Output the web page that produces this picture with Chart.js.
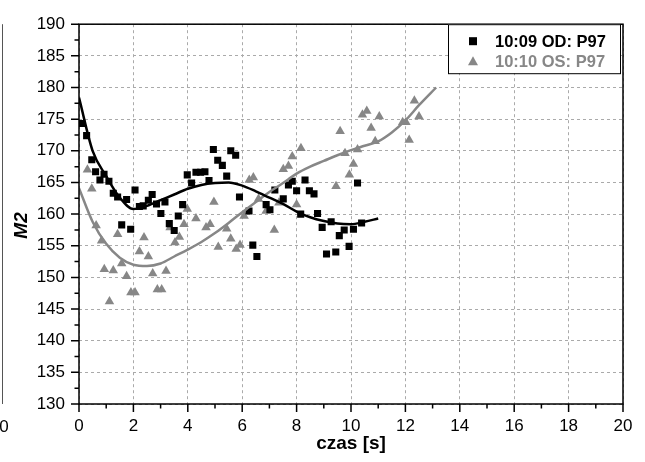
<!DOCTYPE html>
<html>
<head>
<meta charset="utf-8">
<script src="https://cdn.jsdelivr.net/npm/chart.js@4.4.1/dist/chart.umd.min.js"></script>
<style>
  html, body { margin: 0; padding: 0; background: #ffffff; }
  #wrap { width: 645px; height: 462px; position: relative; }
</style>
</head>
<body>
<div id="wrap"><canvas id="chart" width="645" height="462"></canvas></div>
<script>
// Series names
const seriesNames = ['10:09 OD: P97', '10:10 OS: P97'];

// 10:09 OD measurements (time in s, M2)
const odTime = [0.1, 0.28, 0.47, 0.61, 0.77, 0.92, 1.1, 1.26, 1.42, 1.57, 1.75, 1.9, 2.06, 2.22, 2.36, 2.55, 2.69, 2.85, 3.01, 3.16,
  3.32, 3.5, 3.65, 3.81, 3.98, 4.14, 4.3, 4.47, 4.63, 4.78, 4.94, 5.1, 5.27, 5.43, 5.58, 5.76, 5.9, 6.25, 6.39, 6.54,
  6.88, 7.02, 7.2, 7.51, 7.7, 7.84, 8.0, 8.15, 8.31, 8.47, 8.64, 8.77, 8.94, 9.1, 9.27, 9.44, 9.57, 9.75, 9.93, 10.09,
  10.24, 10.39];
const odM2 = [174.3, 172.4, 168.6, 166.7, 165.4, 166.3, 165.2, 163.3, 162.7, 158.3, 162.3, 157.6, 163.8, 161.2, 161.3, 162.2, 163.1, 161.6, 160.1, 161.9,
  158.5, 157.4, 159.7, 161.5, 166.2, 164.9, 166.6, 166.6, 166.7, 165.3, 170.2, 168.5, 167.7, 166.0, 170.0, 169.3, 162.7, 160.5, 155.1, 153.3,
  161.5, 160.7, 163.8, 162.4, 164.6, 165.2, 163.7, 160.0, 165.4, 163.7, 163.2, 160.1, 157.9, 153.7, 158.8, 154.0, 156.6, 157.5, 154.9, 157.6,
  164.9, 158.6];

// 10:10 OS measurements (time in s, M2)
const osTime = [0.31, 0.47, 0.63, 0.83, 0.93, 1.12, 1.26, 1.42, 1.57, 1.75, 1.91, 2.06, 2.22, 2.39, 2.55, 2.71, 2.88, 3.04, 3.2, 3.35,
  3.53, 3.69, 3.86, 3.98, 4.3, 4.67, 4.82, 4.96, 5.12, 5.43, 5.58, 5.78, 5.92, 6.07, 6.26, 6.41, 6.6, 6.88, 7.18, 7.35,
  7.51, 7.7, 7.84, 8.0, 8.16, 9.45, 9.6, 9.78, 9.94, 10.09, 10.24, 10.42, 10.58, 10.74, 10.89, 11.04, 11.9, 12.02, 12.14, 12.33,
  12.5];
const osM2 = [167.0, 164.0, 158.2, 155.8, 151.3, 146.2, 151.1, 156.8, 152.2, 150.2, 147.6, 147.6, 154.1, 156.3, 153.3, 150.6, 148.1, 148.1, 151.0, 157.9,
  155.5, 156.4, 158.4, 160.8, 159.3, 157.9, 158.4, 161.9, 154.8, 157.7, 156.1, 154.5, 155.1, 159.7, 165.4, 165.8, 162.4, 160.5, 157.5, 161.8,
  167.1, 167.6, 169.1, 161.5, 170.4, 164.4, 173.1, 169.6, 166.2, 167.9, 170.2, 175.7, 176.3, 173.6, 171.5, 175.4, 174.5, 174.5, 171.7, 177.9,
  175.4];

// Fitted trend curves
const odFitTime = [0, 0.5, 1.0, 1.5, 2.0, 2.5, 3.0, 3.5, 4.0, 4.5, 5.0, 5.5, 6.0, 6.5, 7.0, 7.5, 8.0, 8.5, 9.0, 9.5, 10.0, 10.5, 11.0];
const odFitM2 = [178.4, 170.0, 166.0, 162.6, 160.8, 161.3, 162.2, 163.1, 164.0, 164.6, 164.9, 165.0, 164.5, 163.6, 162.6, 161.6, 160.4, 159.5, 158.9, 158.5, 158.4, 158.8, 159.3];
const osFitTime = [0, 0.5, 1.0, 1.5, 2.0, 2.5, 3.0, 3.5, 4.0, 4.5, 5.0, 5.5, 6.0, 6.5, 7.0, 7.5, 8.0, 8.5, 9.0, 9.5, 10.0, 10.5, 11.0, 11.5, 12.0, 12.5, 13.13];
const osFitM2 = [164.1, 158.8, 155.3, 153.1, 152.0, 151.8, 152.2, 153.3, 154.4, 155.6, 157.0, 158.6, 160.3, 161.9, 163.5, 164.9, 166.4, 167.5, 168.4, 169.3, 170.1, 170.8, 171.5, 172.9, 174.8, 177.2, 180.0];

// Axis tick values
const xTicks = [0, 2, 4, 6, 8, 10, 12, 14, 16, 18, 20];
const yTicks = [130, 135, 140, 145, 150, 155, 160, 165, 170, 175, 180, 185, 190];

const BLACK = '#000000';
const GREY = '#878787';
const FONT = '"Liberation Sans", Arial, Helvetica, sans-serif';

const toPoints = (xs, ys) => xs.map((x, i) => ({ x: x, y: ys[i] }));

// Frame, minor ticks, axis title, legend and a stray panel edge at the left
const decorations = {
  id: 'decorations',
  beforeDraw(chart) {
    const ctx = chart.ctx;
    ctx.save();
    ctx.fillStyle = '#ffffff';
    ctx.fillRect(0, 0, chart.width, chart.height);
    ctx.restore();
  },
  afterDraw(chart) {
    const ctx = chart.ctx;
    const a = chart.chartArea;
    const xs = chart.scales.x, ys = chart.scales.y;
    ctx.save();

    // neighbouring panel edge
    ctx.strokeStyle = '#555555';
    ctx.lineWidth = 1;
    ctx.beginPath();
    ctx.moveTo(2.5, a.top);
    ctx.lineTo(2.5, a.bottom);
    ctx.stroke();
    ctx.fillStyle = BLACK;
    ctx.font = '17px ' + FONT;
    ctx.textAlign = 'center';
    ctx.textBaseline = 'middle';
    ctx.fillText('0', 4, a.bottom + 23);

    // plot frame
    ctx.strokeStyle = BLACK;
    ctx.lineWidth = 1.5;
    ctx.strokeRect(a.left, a.top, a.right - a.left, a.bottom - a.top);

    // major and minor ticks, pointing outward
    ctx.lineWidth = 1.5;
    ctx.beginPath();
    for (let v = 0; v <= 20; v += 1) {
      const px = xs.getPixelForValue(v);
      const len = v % 2 === 0 ? 8 : 4.5;
      ctx.moveTo(px, a.bottom);
      ctx.lineTo(px, a.bottom + len);
    }
    for (let v = 130; v <= 190; v += 2.5) {
      const py = ys.getPixelForValue(v);
      const len = v % 5 === 0 ? 8 : 4.5;
      ctx.moveTo(a.left, py);
      ctx.lineTo(a.left - len, py);
    }
    ctx.stroke();

    // y axis title
    ctx.save();
    ctx.translate(22, ys.getPixelForValue(158.2));
    ctx.rotate(-Math.PI / 2);
    ctx.font = 'italic bold 19px ' + FONT;
    ctx.fillStyle = BLACK;
    ctx.textAlign = 'center';
    ctx.textBaseline = 'middle';
    ctx.fillText('M2', 0, 0);
    ctx.restore();

    // legend box
    const bx = 448, by = a.top, bw = 172, bh = 49;
    ctx.fillStyle = '#ffffff';
    ctx.fillRect(bx, by, bw, bh);
    ctx.strokeStyle = BLACK;
    ctx.lineWidth = 1;
    ctx.strokeRect(bx + 0.5, by + 0.5, bw, bh);

    const rows = [
      { y: by + 17, color: BLACK, style: 'rect' },
      { y: by + 37, color: GREY, style: 'triangle' }
    ];
    rows.forEach((r, i) => {
      ctx.fillStyle = r.color;
      if (r.style === 'rect') {
        ctx.fillRect(473 - 4, r.y - 4, 8, 8);
      } else {
        ctx.beginPath();
        ctx.moveTo(473, r.y - 5);
        ctx.lineTo(478, r.y + 4);
        ctx.lineTo(468, r.y + 4);
        ctx.closePath();
        ctx.fill();
      }
      ctx.font = 'bold 16.5px ' + FONT;
      ctx.textAlign = 'left';
      ctx.textBaseline = 'middle';
      ctx.fillText(seriesNames[i], 495, r.y + 1);
    });

    ctx.restore();
  }
};

const tickFont = { family: FONT, size: 17 };

new Chart(document.getElementById('chart'), {
  type: 'scatter',
  data: {
    datasets: [
      {
        label: seriesNames[0] + ' fit',
        data: toPoints(odFitTime, odFitM2),
        showLine: true,
        borderColor: BLACK,
        borderWidth: 2.5,
        pointRadius: 0,
        cubicInterpolationMode: 'monotone'
      },
      {
        label: seriesNames[1] + ' fit',
        data: toPoints(osFitTime, osFitM2),
        showLine: true,
        borderColor: GREY,
        borderWidth: 2.5,
        pointRadius: 0,
        cubicInterpolationMode: 'monotone'
      },
      {
        label: seriesNames[0],
        data: toPoints(odTime, odM2),
        pointStyle: 'rect',
        pointRadius: 5,
        backgroundColor: BLACK,
        borderWidth: 0
      },
      {
        label: seriesNames[1],
        data: toPoints(osTime, osM2),
        pointStyle: 'triangle',
        pointRadius: 5.5,
        backgroundColor: GREY,
        borderWidth: 0
      }
    ]
  },
  options: {
    responsive: false,
    animation: false,
    devicePixelRatio: 1,
    layout: { padding: { left: 0, top: 19, right: 22, bottom: 0 } },
    plugins: {
      legend: { display: false },
      tooltip: { enabled: false }
    },
    scales: {
      x: {
        type: 'linear',
        min: 0,
        max: 20,
        afterFit: s => { s.height = 58; },
        afterBuildTicks: s => { s.ticks = xTicks.map(v => ({ value: v })); },
        ticks: { font: tickFont, color: BLACK, padding: 12, maxRotation: 0, autoSkip: false },
        grid: { color: '#aaaaaa', lineWidth: 1, drawTicks: false },
        border: { display: false, dash: [3, 3] },
        title: {
          display: true,
          text: 'czas [s]',
          color: BLACK,
          font: { family: FONT, size: 19, weight: 'bold' },
          padding: { top: 0, bottom: 7 }
        }
      },
      y: {
        type: 'linear',
        min: 130,
        max: 190,
        afterFit: s => { s.width = 79; },
        afterBuildTicks: s => { s.ticks = yTicks.map(v => ({ value: v })); },
        ticks: { font: tickFont, color: BLACK, padding: 14 },
        grid: { color: '#aaaaaa', lineWidth: 1, drawTicks: false },
        border: { display: false, dash: [3, 3] }
      }
    }
  },
  plugins: [decorations]
});
</script>
</body>
</html>
